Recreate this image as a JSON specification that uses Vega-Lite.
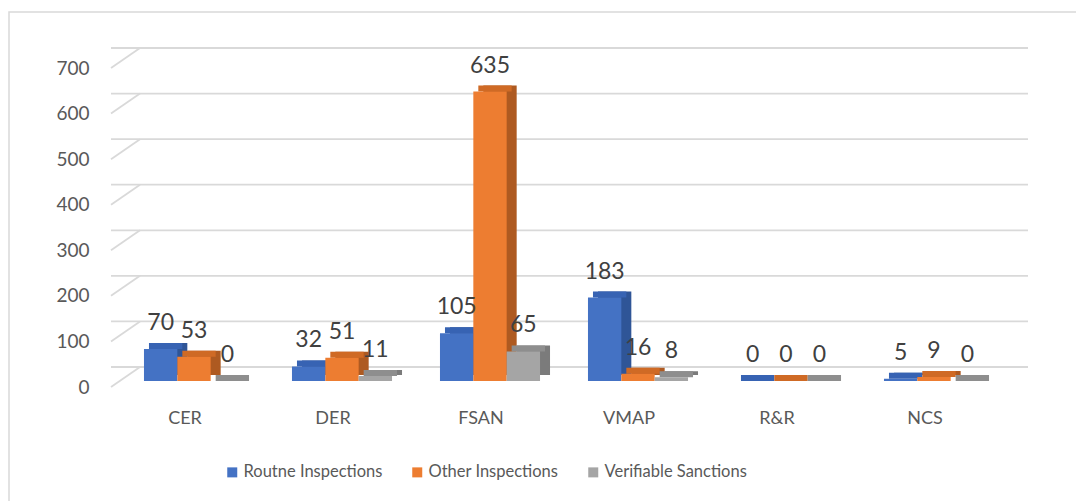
{
  "$schema": "https://vega.github.io/schema/vega-lite/v6.json",
  "autosize": "none",
  "width": 888,
  "height": 319,
  "padding": {"left": 111, "top": 62, "right": 77, "bottom": 120},
  "background": "white",
  "config": {
    "view": {"stroke": null},
    "font": "Lato",
    "axis": {"labelFont": "Lato", "labelColor": "#595959", "grid": false, "domain": false, "ticks": false, "title": null},
    "axisX": {"labelFontSize": 18, "labelPadding": 28, "labelAngle": 0, "labelOffset": -9},
    "axisY": {"labelFontSize": 19, "labelPadding": 22, "labelOffset": 6}
  },
  "datasets": {
    "main": [
      {"category": "CER", "series": "Routne Inspections", "value": 70},
      {"category": "CER", "series": "Other Inspections", "value": 53},
      {"category": "CER", "series": "Verifiable Sanctions", "value": 0},
      {"category": "DER", "series": "Routne Inspections", "value": 32},
      {"category": "DER", "series": "Other Inspections", "value": 51},
      {"category": "DER", "series": "Verifiable Sanctions", "value": 11},
      {"category": "FSAN", "series": "Routne Inspections", "value": 105},
      {"category": "FSAN", "series": "Other Inspections", "value": 635},
      {"category": "FSAN", "series": "Verifiable Sanctions", "value": 65},
      {"category": "VMAP", "series": "Routne Inspections", "value": 183},
      {"category": "VMAP", "series": "Other Inspections", "value": 16},
      {"category": "VMAP", "series": "Verifiable Sanctions", "value": 8},
      {"category": "R&R", "series": "Routne Inspections", "value": 0},
      {"category": "R&R", "series": "Other Inspections", "value": 0},
      {"category": "R&R", "series": "Verifiable Sanctions", "value": 0},
      {"category": "NCS", "series": "Routne Inspections", "value": 5},
      {"category": "NCS", "series": "Other Inspections", "value": 9},
      {"category": "NCS", "series": "Verifiable Sanctions", "value": 0}
    ],
    "ticks": [
      {"tick": 0}, {"tick": 100}, {"tick": 200}, {"tick": 300},
      {"tick": 400}, {"tick": 500}, {"tick": 600}, {"tick": 700}
    ],
    "frame": [{"frame": 1}]
  },
  "resolve": {"scale": {"color": "independent", "x": "independent", "xOffset": "independent"}, "axis": {"x": "independent"}},
  "layer": [
    {
      "data": {"name": "frame"},
      "mark": {"type": "rect", "x": -102, "y": -50, "x2": 1000, "y2": 470, "fill": null, "stroke": "#D9D9D9", "strokeWidth": 1.5},
      "encoding": {}
    },
    {
      "data": {"name": "ticks"},
      "mark": {"type": "rule", "color": "#D9D9D9", "strokeWidth": 1.8, "xOffset": 29, "x2Offset": 33, "yOffset": -14},
      "encoding": {
        "y": {"field": "tick", "type": "quantitative", "title": null, "scale": {"domain": [0, 700], "nice": false, "zero": true},
          "axis": {"values": [0, 100, 200, 300, 400, 500, 600, 700]}}
      }
    },
    {
      "data": {"name": "ticks"},
      "mark": {"type": "rule", "color": "#D9D9D9", "strokeWidth": 1.8, "yOffset": 6, "y2Offset": -14},
      "encoding": {
        "x": {"value": 0},
        "x2": {"value": 29},
        "y": {"field": "tick", "type": "quantitative", "title": null},
        "y2": {"field": "tick"}
      }
    },
    {
      "data": {"name": "main"},
      "mark": {"type": "bar", "yOffset": -6},
      "encoding": {
        "x": {"field": "category", "type": "nominal", "sort": null, "scale": {"range": [19, 907], "paddingInner": 0.324, "paddingOuter": 0.162}, "axis": null},
        "xOffset": {"field": "series", "type": "nominal", "sort": null, "scale": {"paddingInner": 0, "paddingOuter": 0}},
        "y": {"field": "value", "type": "quantitative", "title": null},
        "color": {"field": "series", "type": "nominal", "sort": null, "scale": {"range": ["#2F5597", "#AE5A21", "#7B7B7B"]}, "legend": null}
      }
    },
    {
      "data": {"name": "main"},
      "mark": {"type": "bar", "yOffset": -6},
      "encoding": {
        "x": {"field": "category", "type": "nominal", "sort": null, "scale": {"range": [14, 902], "paddingInner": 0.324, "paddingOuter": 0.162}, "axis": null},
        "xOffset": {"field": "series", "type": "nominal", "sort": null, "scale": {"paddingInner": 0, "paddingOuter": 0}},
        "y": {"field": "value", "type": "quantitative", "title": null},
        "y2": {"field": "value"},
        "color": {"field": "series", "type": "nominal", "sort": null, "scale": {"range": ["#3763B3", "#CF6A25", "#8E8E8E"]}, "legend": null}
      }
    },
    {
      "data": {"name": "main"},
      "mark": {"type": "bar"},
      "encoding": {
        "x": {"field": "category", "type": "nominal", "sort": null, "title": null,
          "scale": {"range": [9, 897], "paddingInner": 0.324, "paddingOuter": 0.162}},
        "xOffset": {"field": "series", "type": "nominal", "sort": null, "scale": {"paddingInner": 0, "paddingOuter": 0}},
        "y": {"field": "value", "type": "quantitative", "title": null},
        "color": {"field": "series", "type": "nominal", "sort": null, "title": null,
          "scale": {"range": ["#4472C4", "#ED7D31", "#A5A5A5"]},
          "legend": {"orient": "none", "direction": "horizontal", "legendX": 113, "legendY": 402,
            "symbolType": "square", "symbolSize": 100, "symbolStrokeWidth": 0, "labelFont": "Lato", "labelFontSize": 16.5,
            "labelColor": "#595959", "columnPadding": 26, "labelOffset": 3}}
      }
    },
    {
      "data": {"name": "main"},
      "mark": {"type": "text", "dy": -19, "baseline": "alphabetic", "fontSize": 23, "color": "#404040", "font": "Lato"},
      "encoding": {
        "x": {"field": "category", "type": "nominal", "sort": null,
          "scale": {"type": "band", "range": [9, 897], "paddingInner": 0.324, "paddingOuter": 0.162}, "axis": null},
        "xOffset": {"field": "series", "type": "nominal", "sort": null, "scale": {"type": "band", "paddingInner": 0, "paddingOuter": 0}},
        "y": {"field": "value", "type": "quantitative", "title": null},
        "text": {"field": "value", "type": "quantitative"}
      }
    }
  ]
}
